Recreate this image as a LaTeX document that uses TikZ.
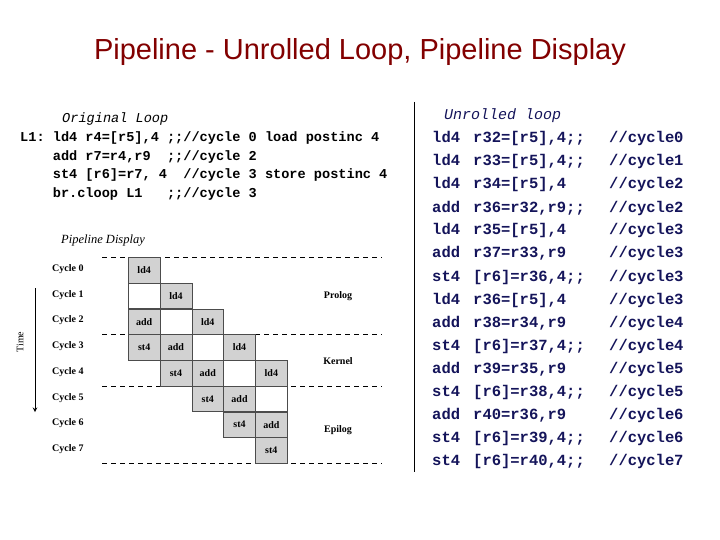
\documentclass[tikz,border=0pt]{standalone}
\usepackage{fontspec}
\setmainfont{Liberation Serif}
\setmonofont{Liberation Mono}
\newfontfamily\titlefont{Liberation Sans}
\definecolor{navy}{RGB}{20,20,90}
\definecolor{tred}{RGB}{130,0,0}
\definecolor{cellgray}{RGB}{210,210,210}
\begin{document}
\begin{tikzpicture}[x=1pt,y=-1pt,
  lcode/.style={anchor=base west,inner sep=0,font=\fontsize{13.6}{14}\selectfont\ttfamily\bfseries},
  rcode/.style={anchor=base west,inner sep=0,text=navy,font=\fontsize{15.5}{16}\selectfont\ttfamily\bfseries},
  cyc/.style={anchor=west,inner sep=0,font=\fontsize{10}{11}\selectfont\bfseries},
  cell/.style={draw=black!70,line width=0.6pt,minimum width=31.7pt,minimum height=25.7pt,inner sep=0,anchor=north west,font=\fontsize{10}{11}\selectfont\bfseries},
  op/.style={cell,fill=cellgray},
  emp/.style={cell,fill=white},
  dline/.style={line width=1pt,dash pattern=on 5pt off 4pt}]
\useasboundingbox (0,0) rectangle (720,540);
\node (title) at (360,52) {\titlefont\fontsize{29}{32}\selectfont\color{tred}Pipeline - Unrolled Loop, Pipeline Display};
\draw[line width=0.8pt] (414,102) -- (414,472);
% left code
\node[lcode,font=\fontsize{13.6}{14}\selectfont\ttfamily\itshape] (ol) at (62,123) {Original Loop};
\node[lcode] (l1) at (20,142) {L1: ld4 r4=[r5],4 ;;//cycle 0 load postinc 4};
\node[lcode] (l2) at (20,161) {\ \ \ \ add r7=r4,r9\ \ ;;//cycle 2};
\node[lcode] (l3) at (20,179) {\ \ \ \ st4 [r6]=r7, 4\ \ //cycle 3 store postinc 4};
\node[lcode] (l4) at (20,198) {\ \ \ \ br.cloop L1\ \ \ ;;//cycle 3};
% pipeline display
\node[anchor=west,inner sep=0,font=\fontsize{12.5}{13}\selectfont\itshape] (pd) at (61,241) {Pipeline Display};
\foreach \i in {0,...,7}{
  \node[cyc] (c\i) at (52,{269+25.75*\i}) {Cycle \i};
}
\foreach \yy/\nm in {257/d0,334/d1,386/d2,463/d3}{
  \coordinate (\nm a) at (102,\yy); \coordinate (\nm b) at (382,\yy);
  \draw[dline] (\nm a) -- (\nm b);
}
\foreach \i in {0,...,4}{
  \node[op]  (a\i) at ({128+31.8*\i},{257+25.75*\i}) {ld4};
  \node[emp] (b\i) at ({128+31.8*\i},{257+25.75*(\i+1)}) {};
  \node[op]  (e\i) at ({128+31.8*\i},{257+25.75*(\i+2)}) {add};
  \node[op]  (s\i) at ({128+31.8*\i},{257+25.75*(\i+3)}) {st4};
}
\coordinate (t0) at (35,288); \coordinate (t1) at (35,412);
\draw[line width=1pt,-stealth] (t0) -- (t1);
\node[rotate=90,font=\fontsize{10}{11}\selectfont] (time) at (20,342) {Time};
\node[font=\fontsize{10}{11}\selectfont\bfseries] (pro) at (338,296) {Prolog};
\node[font=\fontsize{10}{11}\selectfont\bfseries] (ker) at (338,361) {Kernel};
\node[font=\fontsize{10}{11}\selectfont\bfseries] (epi) at (338,430) {Epilog};
% right code
\node[rcode,font=\fontsize{15}{16}\selectfont\ttfamily\itshape,text=navy] (ul) at (444,120) {Unrolled loop};
\foreach [count=\k from 0] \a/\b/\c in {
 ld4/r32=[r5]{,}4;;/0, ld4/r33=[r5]{,}4;;/1, ld4/r34=[r5]{,}4/2, add/r36=r32{,}r9;;/2,
 ld4/r35=[r5]{,}4/3, add/r37=r33{,}r9/3, st4/[r6]=r36{,}4;;/3, ld4/r36=[r5]{,}4/3,
 add/r38=r34{,}r9/4, st4/[r6]=r37{,}4;;/4, add/r39=r35{,}r9/5, st4/[r6]=r38{,}4;;/5,
 add/r40=r36{,}r9/6, st4/[r6]=r39{,}4;;/6, st4/[r6]=r40{,}4;;/7}{
  \node[rcode] (ra\k) at (432,{143+23*\k}) {\a};
  \node[rcode] (rb\k) at (473,{143+23*\k}) {\b};
  \node[rcode] (rc\k) at (609,{143+23*\k}) {//cycle};
  \node[rcode] (rd\k) at (674,{143+23*\k}) {\c};
}
\end{tikzpicture}
\end{document}
